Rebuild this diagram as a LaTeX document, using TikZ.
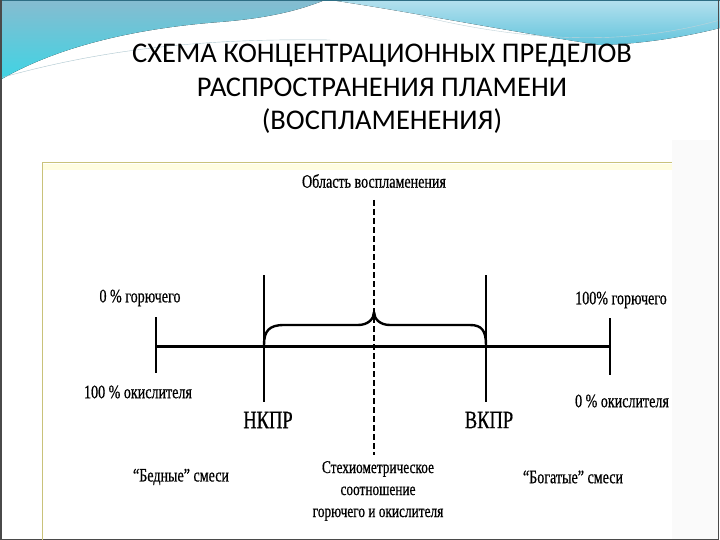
\documentclass[tikz,border=0pt]{standalone}
\usepackage{fontspec}
\setmainfont{Liberation Serif}
\newfontfamily\titlefont{Carlito}
\newfontfamily\diagfont[FakeStretch=0.74,FakeBold=0.6]{Liberation Serif}
\usepackage{tikz}
\usetikzlibrary{positioning,calc}
\definecolor{slideedge}{HTML}{4A4A4A}
\definecolor{wavetop}{HTML}{86BCD0}
\definecolor{wavecyan}{HTML}{3ED4E4}
\definecolor{wavelight}{HTML}{B4E0EE}
\definecolor{wavemid}{HTML}{62C4DC}
\definecolor{waveedge}{HTML}{2E6E84}
\definecolor{frameline}{HTML}{C9C27A}
\tikzset{
  titletext/.style={font=\titlefont\fontsize{28.5}{33.5}\selectfont, align=center, inner sep=0pt},
  diagtext/.style={font=\diagfont\fontsize{19}{22}\selectfont, align=center, inner sep=0pt},
  limittext/.style={font=\diagfont\fontsize{25}{26}\selectfont, inner sep=0pt},
  axisline/.style={line width=3pt},
  tickline/.style={line width=2.4pt},
  braceline/.style={line width=2.4pt, line join=round},
  midline/.style={line width=2.8pt, dash pattern=on 6pt off 3pt}
}

\begin{document}
\begin{tikzpicture}[x=1pt,y=-1pt]
\useasboundingbox (0,0) rectangle (720,540);
% Slide background
\fill[white] (0,0) rectangle (720,540);
\fill[black!2] (672,140) rectangle (718,540);
\fill[top color=wavetop, bottom color=wavecyan] (0,0) -- (325,0) .. controls (300,10) and (270,18) .. (220,22) .. controls (140,28) and (60,45) .. (0,80) -- cycle;
\fill[top color=wavelight, bottom color=wavemid] (330,0) -- (720,0) -- (720,28) .. controls (680,38) and (640,44) .. (600,45) .. controls (500,30) and (400,10) .. (330,0) -- cycle;
\draw[waveedge!40, thin] (0,78) .. controls (100,50) and (200,38) .. (330,40);
\draw[waveedge!30, thin] (420,16) .. controls (520,40) and (620,48) .. (720,20);
\draw[waveedge, line width=1.5pt] (0,0.75) -- (720,0.75);
\draw[slideedge, line width=1.5pt] (0.75,0) -- (0.75,539.25) -- (718.5,539.25) -- (718.5,0);

% Title
\node[titletext] (title) at (382,89) {СХЕМА КОНЦЕНТРАЦИОННЫХ ПРЕДЕЛОВ\\РАСПРОСТРАНЕНИЯ ПЛАМЕНИ\\(ВОСПЛАМЕНЕНИЯ)};

% Inner frame
\fill[yellow!12] (43,164) rectangle (672,170);
\draw[frameline, line width=1pt] (42,540) -- (42,163) -- (672,163);

% Axis and limits
\coordinate (axisL) at (156,346);
\coordinate (axisR) at (611,346);
\coordinate (tickLtop) at (156,317);
\coordinate (tickLbot) at (156,373);
\coordinate (lowtop) at (264,275);
\coordinate (lowbot) at (264,402);
\coordinate (uptop) at (486,275);
\coordinate (upbot) at (486,402);
\coordinate (tickRtop) at (610,318);
\coordinate (tickRbot) at (610,375);
\coordinate (midtop) at (374,200);
\coordinate (midbot) at (374,455);

\draw[axisline] (axisL) -- (axisR);
\draw[tickline] (tickLtop) -- (tickLbot);
\draw[tickline] (lowtop) -- (lowbot);
\draw[tickline] (uptop) -- (upbot);
\draw[tickline] (tickRtop) -- (tickRbot);
\draw[midline] (midtop) -- (midbot);

% Brace
\draw[braceline] (264,345) .. controls (264,331) and (269,325) .. (284,325) -- (358,325)
  .. controls (368,325) and (374,319) .. (374,312)
  .. controls (374,319) and (380,325) .. (390,325) -- (470,325)
  .. controls (482,325) and (486,331) .. (486,345);

% Labels
\node[diagtext] (zone) at (374,181) {Область воспламенения};
\node[diagtext] (fuelzero) at (140,298) {0 \% горючего};
\node[diagtext] (fuelfull) at (621,300) {100\% горючего};
\node[diagtext] (oxfull) at (138,392) {100 \% окислителя};
\node[diagtext] (oxzero) at (622,401) {0 \% окислителя};
\node[limittext] (lower) at (268,420) {НКПР};
\node[limittext] (upper) at (489,420) {ВКПР};
\node[diagtext] (lean) at (181,477) {“Бедные” смеси};
\node[diagtext] (rich) at (573,477) {“Богатые” смеси};
\node[diagtext, font=\diagfont\fontsize{18}{22}\selectfont] (stoich) at (378,491) {Стехиометрическое\\соотношение\\горючего и окислителя};
\end{tikzpicture}
\end{document}
